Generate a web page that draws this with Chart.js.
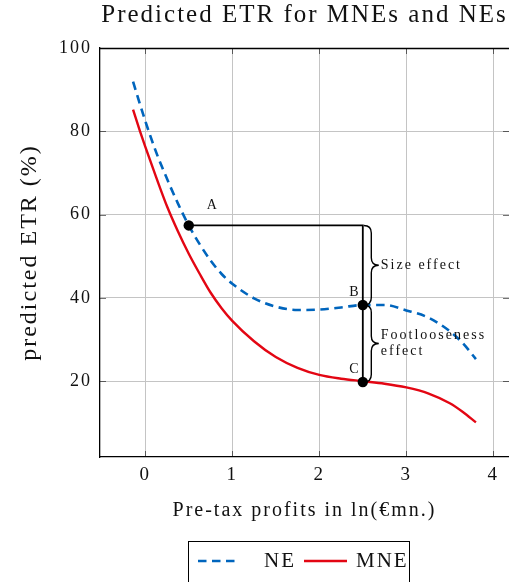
<!DOCTYPE html>
<html><head><meta charset="utf-8">
<script src="https://cdn.jsdelivr.net/npm/chart.js@4.4.1/dist/chart.umd.min.js"></script>
<style>html,body{margin:0;padding:0;background:#fff;overflow:hidden}canvas{display:block}</style>
</head><body>
<canvas id="c" width="509" height="582"></canvas>
<script>
// ---- data ----
const titleText = 'Predicted ETR for MNEs and NEs';
const xTitle = 'Pre-tax profits in ln(€mn.)';
const yTitle = 'predicted ETR (%)';
const seriesNames = ['NE', 'MNE'];
const neX  = [-0.14, 0, 0.125, 0.25, 0.375, 0.5, 0.625, 0.75, 0.875, 1.0, 1.25, 1.5, 1.75, 2.0, 2.25, 2.5, 2.75, 3.0, 3.25, 3.5, 3.65, 3.8];
const neY  = [91.9, 82.5, 75.0, 68.6, 62.7, 57.4, 52.9, 49.0, 45.8, 43.4, 39.9, 37.9, 37.1, 37.2, 37.7, 38.3, 38.3, 37.0, 35.3, 32.0, 29.1, 25.3];
const mneX = [-0.14, -0.06, 0, 0.125, 0.25, 0.375, 0.5, 0.625, 0.75, 0.875, 1.0, 1.25, 1.5, 1.75, 2.0, 2.25, 2.5, 2.75, 3.0, 3.25, 3.5, 3.65, 3.8];
const mneY = [85.2, 80.0, 76.3, 69.0, 62.0, 56.0, 50.6, 45.8, 41.3, 37.6, 34.5, 29.6, 25.8, 23.2, 21.5, 20.6, 20.0, 19.4, 18.5, 17.1, 14.7, 12.6, 10.1];
const pointLabels = ['A', 'B', 'C'];
const pointX = [0.5, 2.5, 2.5];
const pointY = [57.4, 38.3, 19.8];
const pathX = [0.5, 2.5, 2.5];
const pathY = [57.4, 57.4, 19.8];
const braceTexts = [['Size effect'], ['Footlooseness', 'effect']];
const xTicks = [0, 1, 2, 3, 4];
const yTicks = [20, 40, 60, 80, 100];

const FONT = "'Liberation Serif', 'Times New Roman', serif";
const INK = '#111';
const BLUE = '#0065bd';
const RED = '#e30613';
const toXY = (xs, ys) => xs.map((x, i) => ({x, y: ys[i]}));

const spacing = {
  id: 'spacing',
  beforeUpdate(chart) { chart.ctx.letterSpacing = '2px'; },
  beforeLayout(chart) { chart.ctx.letterSpacing = '2px'; },
  beforeDraw(chart) { chart.ctx.letterSpacing = '2px'; }
};

function brace(ctx, x, y1, y2, w) {
  const m = (y1 + y2) / 2, h = w / 2;
  ctx.beginPath();
  ctx.moveTo(x, y1);
  ctx.quadraticCurveTo(x + h, y1, x + h, y1 + h);
  ctx.lineTo(x + h, m - h);
  ctx.quadraticCurveTo(x + h, m, x + w, m);
  ctx.quadraticCurveTo(x + h, m, x + h, m + h);
  ctx.lineTo(x + h, y2 - h);
  ctx.quadraticCurveTo(x + h, y2, x, y2);
  ctx.stroke();
}

const decor = {
  id: 'decor',
  beforeDatasetsDraw(chart) {
    const {ctx, chartArea: a, scales: {x, y}} = chart;
    ctx.save();
    ctx.strokeStyle = 'rgba(0,0,0,0.55)';
    ctx.lineWidth = 1;
    const L = 6;
    ctx.beginPath();
    xTicks.forEach(v => {
      const px = Math.round(x.getPixelForValue(v)) + 0.5;
      ctx.moveTo(px, a.top); ctx.lineTo(px, a.top + L);
      ctx.moveTo(px, a.bottom); ctx.lineTo(px, a.bottom - L);
    });
    yTicks.forEach(v => {
      const py = Math.round(y.getPixelForValue(v)) + 0.5;
      ctx.moveTo(a.left, py); ctx.lineTo(a.left + L, py);
      ctx.moveTo(a.right, py); ctx.lineTo(a.right - L, py);
    });
    ctx.stroke();
    ctx.strokeStyle = '#000';
    ctx.lineWidth = 1.3;
    ctx.beginPath();
    ctx.moveTo(a.left, a.top + 0.5); ctx.lineTo(a.right, a.top + 0.5);
    ctx.stroke();
    ctx.restore();
  },
  afterDatasetsDraw(chart) {
    const {ctx, scales: {x, y}} = chart;
    ctx.save();
    ctx.letterSpacing = '2px';
    ctx.fillStyle = INK;
    ctx.font = '14px ' + FONT;
    ctx.textAlign = 'center';
    ctx.textBaseline = 'middle';
    const off = [[24, -20], [-8, -13], [-8, -13]];
    pointLabels.forEach((t, i) => {
      ctx.fillText(t, x.getPixelForValue(pointX[i]) + off[i][0], y.getPixelForValue(pointY[i]) + off[i][1]);
    });
    // braces
    const bx = x.getPixelForValue(pathX[1]) + 1;
    const W = 15;
    const spans = [[pathY[1], pointY[1]], [pointY[1], pointY[2]]];
    ctx.strokeStyle = '#000';
    ctx.lineWidth = 1.4;
    ctx.textAlign = 'left';
    spans.forEach((s, i) => {
      const y1 = y.getPixelForValue(s[0]), y2 = y.getPixelForValue(s[1]);
      brace(ctx, bx, y1, y2, W);
      const m = (y1 + y2) / 2;
      const lines = braceTexts[i];
      lines.forEach((t, k) => {
        ctx.fillText(t, bx + W + 2, m + (k - (lines.length - 1) / 2) * 15.5);
      });
    });
    // legend
    ctx.lineWidth = 1;
    ctx.strokeStyle = '#000';
    ctx.strokeRect(188.5, 541.5, 221, 41);
    const ds = chart.data.datasets;
    const ne = ds[2], mne = ds[3];
    ctx.lineWidth = 2.6;
    ctx.strokeStyle = ne.borderColor;
    ctx.setLineDash(ne.borderDash);
    ctx.beginPath(); ctx.moveTo(198, 561); ctx.lineTo(239, 561); ctx.stroke();
    ctx.setLineDash([]);
    ctx.strokeStyle = mne.borderColor;
    ctx.lineWidth = 2.4;
    ctx.beginPath(); ctx.moveTo(304, 561); ctx.lineTo(347, 561); ctx.stroke();
    ctx.font = '21px ' + FONT;
    ctx.textBaseline = 'alphabetic';
    ctx.fillText(ne.label, 264, 567);
    ctx.fillText(mne.label, 356, 567);
    ctx.restore();
  }
};

new Chart(document.getElementById('c'), {
  type: 'line',
  data: {
    datasets: [
      {label: 'points', data: toXY(pointX, pointY), showLine: false, pointRadius: 5.2, pointHoverRadius: 5.2,
       backgroundColor: '#000', borderColor: '#000', pointBorderWidth: 0},
      {label: 'path', data: toXY(pathX, pathY), borderColor: '#000', borderWidth: 1.8, pointRadius: 0, tension: 0},
      {label: seriesNames[0], data: toXY(neX, neY), borderColor: BLUE, borderWidth: 2.6, borderDash: [8.5, 5.5],
       pointRadius: 0, cubicInterpolationMode: 'monotone', fill: false},
      {label: seriesNames[1], data: toXY(mneX, mneY), borderColor: RED, borderWidth: 2.4,
       pointRadius: 0, cubicInterpolationMode: 'monotone', fill: false}
    ]
  },
  options: {
    responsive: false,
    animation: false,
    devicePixelRatio: 1,
    layout: {autoPadding: false, padding: {left: 0, right: 0, top: 0, bottom: 52}},
    plugins: {
      legend: {display: false},
      tooltip: {enabled: false},
      title: {display: true, text: titleText, fullSize: false, color: INK,
              font: {family: FONT, size: 25, weight: 'normal'}, padding: {top: 0, bottom: 18}}
    },
    scales: {
      x: {
        type: 'linear', min: -0.52, max: 4.18,
        afterBuildTicks: s => { s.ticks = xTicks.map(v => ({value: v})); },
        afterFit: s => { s.height = 73; s.paddingLeft = 0; s.paddingRight = 0; },
        ticks: {color: INK, font: {family: FONT, size: 19}, padding: 7, maxRotation: 0, autoSkip: false},
        grid: {color: '#c4c4c4', lineWidth: 1, drawTicks: false},
        border: {color: '#000', width: 1.3},
        title: {display: true, text: xTitle, color: INK, font: {family: FONT, size: 20}, padding: {top: 18, bottom: 7}}
      },
      y: {
        type: 'linear', min: 1.8, max: 100,
        afterBuildTicks: s => { s.ticks = yTicks.map(v => ({value: v})); },
        afterFit: s => { s.width = 100; s.paddingTop = 0; s.paddingBottom = 0; },
        ticks: {color: INK, font: {family: FONT, size: 18}, padding: 8, autoSkip: false},
        grid: {color: '#c4c4c4', lineWidth: 1, drawTicks: false},
        border: {color: '#000', width: 1.3},
        title: {display: true, text: yTitle, color: INK, font: {family: FONT, size: 24}, padding: {top: 15}}
      }
    }
  },
  plugins: [spacing, decor]
});
</script>
</body></html>
